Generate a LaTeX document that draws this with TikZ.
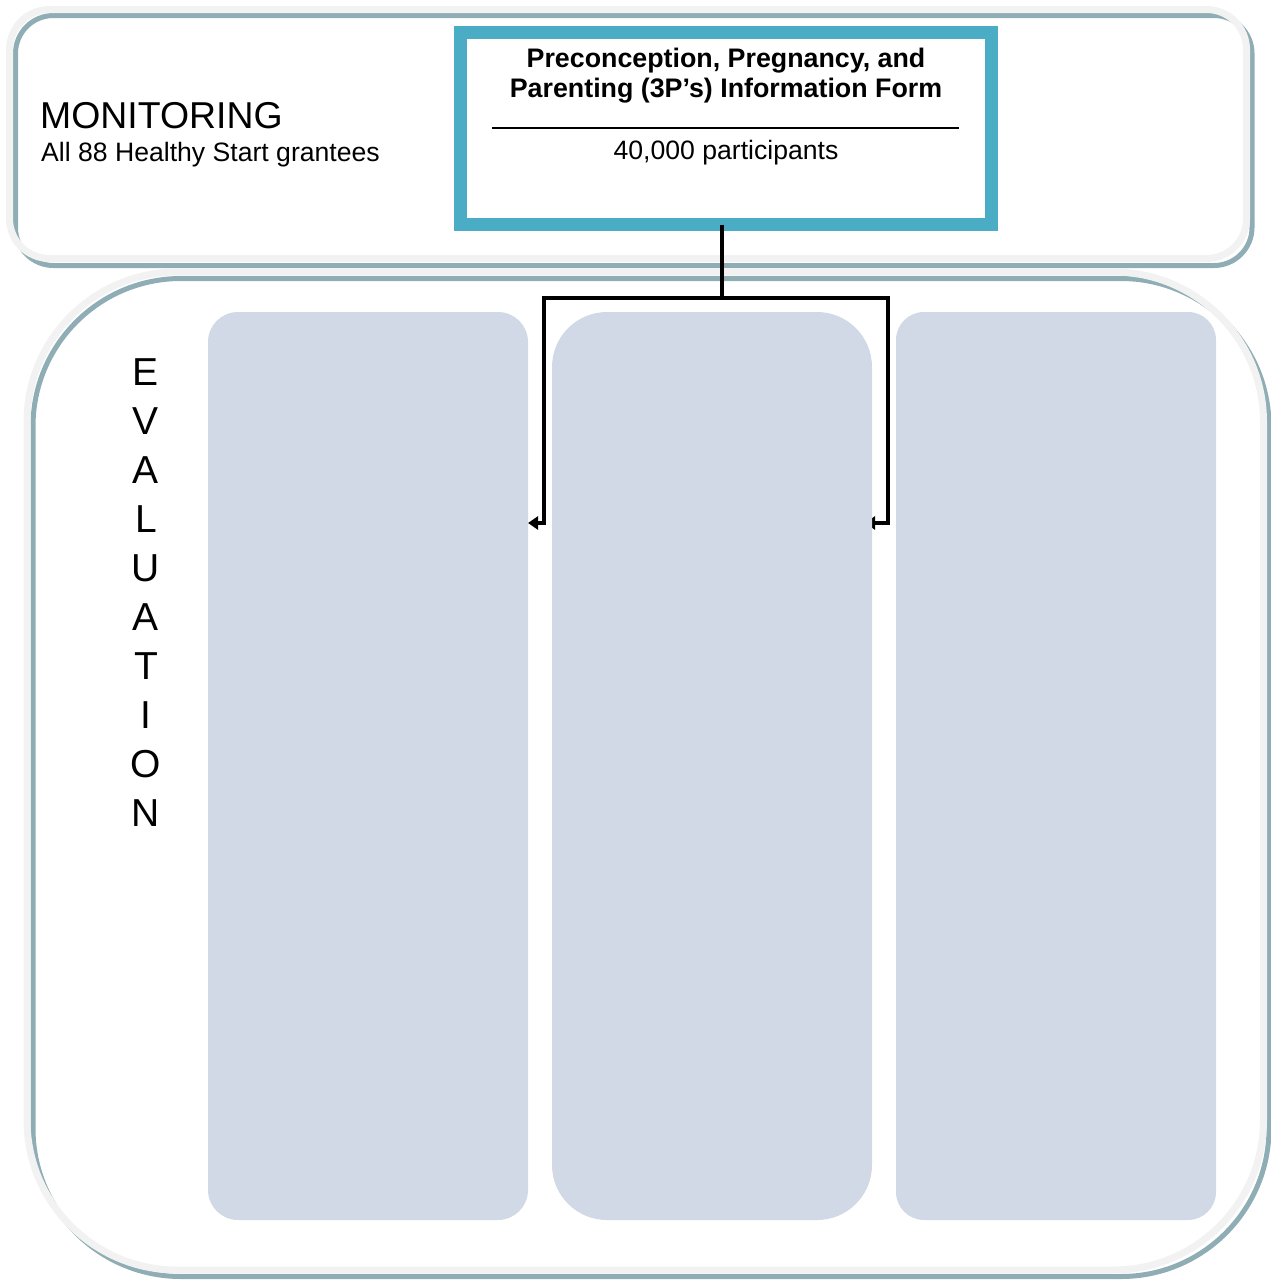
\documentclass[tikz,border=0pt]{standalone}
\usepackage{fontspec}
\setmainfont{Liberation Sans}
\usetikzlibrary{arrows.meta}
\definecolor{bandgray}{HTML}{F2F2F2}
\definecolor{bandteal}{HTML}{8FADB4}
\definecolor{boxcyan}{HTML}{4BACC6}
\definecolor{colfill}{HTML}{D1D8E6}
\begin{document}
\begin{tikzpicture}[x=1pt,y=-1pt,
  frameteal/.style={draw=bandteal, line width=5pt},
  framegray/.style={draw=bandgray, line width=7pt},
  colbox/.style={fill=colfill, draw=none, inner sep=0pt, minimum width=320pt, minimum height=908pt},
  conn/.style={draw=black, line width=4.5pt, -{Triangle[length=10pt,width=13pt]}},
  evl/.style={font=\fontsize{39}{47}\selectfont, anchor=base, inner sep=0pt},
  bodytext/.style={font=\fontsize{26.6}{30}\selectfont, inner sep=0pt}]
\useasboundingbox (0,0) rectangle (1271,1283);
% top frame
\draw[frameteal, rounded corners=38pt] (15.5,15.5) rectangle (1252,265.5);
\draw[framegray, rounded corners=40pt] (9.5,9.5) rectangle (1246.5,258.5);
% bottom frame
\draw[frameteal, rounded corners=148pt] (33,278.5) rectangle (1269,1276.5);
\draw[framegray, rounded corners=150pt] (27,272) rectangle (1263.5,1270);
% monitoring text
\node[font=\fontsize{37.4}{43}\selectfont, anchor=base west, inner sep=0pt] (mon) at (40,128) {MONITORING};
\node[bodytext, anchor=base west] (mon2) at (41,161.5) {All 88 Healthy Start grantees};
% form box
\node[draw=boxcyan, line width=13pt, fill=white, minimum width=531pt, minimum height=192pt, inner sep=0pt, outer sep=0pt] (form) at (726,128.5) {};
\node[bodytext, font=\bfseries\fontsize{26.8}{30}\selectfont, anchor=base] (t1) at (726,67) {Preconception, Pregnancy, and};
\node[bodytext, font=\bfseries\fontsize{26.8}{30}\selectfont, anchor=base] (t2) at (726,97) {Parenting (3P’s) Information Form};
\draw[line width=2pt] (492,128) -- (959,128);
\node[bodytext, anchor=base] (t3) at (726,159) {40,000 participants};
% connectors
\coordinate (jL) at (544,298);
\coordinate (jR) at (888,298);
\coordinate (aL) at (528,523);
\coordinate (aR) at (865,523);
\draw[conn] ([xshift=-4pt]form.south) |- (jL) |- (aL);
\draw[conn] ([xshift=-4pt]form.south) |- (jR) |- (aR);
% columns
\node[colbox, rounded corners=30pt] (c1) at (368,766) {};
\node[colbox, rounded corners=55pt] (c2) at (712,766) {};
\node[colbox, rounded corners=28pt] (c3) at (1056,766) {};
% EVALUATION
\foreach \ch [count=\i] in {E,V,A,L,U,A,T,I,O,N} {
  \node[evl] (ev\i) at (146,{385+49*(\i-1)}) {\ch};
}
\end{tikzpicture}
\end{document}
